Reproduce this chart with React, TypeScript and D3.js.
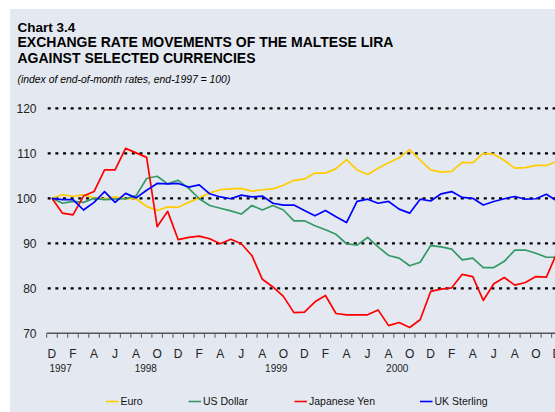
import React, { useEffect, useRef } from "react";
import * as d3 from "d3";

// end-of-month index, Dec 1997 = 100, Dec 1997 .. Dec 2001
const euro = [
  100, 100.8, 100.4, 100.8, 100.1, 99.9, 100.3, 99.9, 99.9, 98.2, 97.3, 98.1, 98.0,
  99.1, 100.1, 101.2, 101.9, 102.1, 102.2, 101.6, 101.9, 102.1, 102.9, 104.0, 104.3,
  105.6, 105.6, 106.6, 108.6, 106.3, 105.3, 106.7, 107.9, 109.0, 110.8, 108.5, 106.3,
  105.8, 106.0, 108.0, 107.9, 110.0, 109.8, 108.4, 106.7, 106.8, 107.3, 107.3, 108.2,
];
const usDollar = [
  100, 98.9, 99.3, 99.1, 100.0, 99.7, 99.8, 99.9, 100.6, 104.4, 104.9, 103.2, 104.0,
  102.2, 99.9, 98.4, 97.8, 97.2, 96.5, 98.4, 97.4, 98.4, 97.4, 95.0, 95.0,
  93.9, 93.0, 92.0, 89.9, 89.6, 91.3, 89.2, 87.3, 86.7, 85.0, 85.8, 89.5,
  89.2, 88.7, 86.3, 86.7, 84.6, 84.6, 86.0, 88.5, 88.5, 87.8, 86.9, 86.9,
];
const japaneseYen = [
  100, 96.7, 96.3, 100.5, 101.5, 106.3, 106.3, 111.1, 110.1, 109.1, 93.7, 97.1, 90.8,
  91.3, 91.6, 91.0, 89.9, 90.9, 89.9, 87.3, 82.0, 80.3, 78.2, 74.6, 74.7,
  77.0, 78.4, 74.4, 74.1, 74.1, 74.1, 75.2, 71.7, 72.4, 71.3, 73.0, 79.3,
  79.8, 80.1, 83.1, 82.6, 77.3, 81.0, 82.4, 80.7, 81.3, 82.6, 82.5, 87.9,
];
const ukSterling = [
  100, 99.7, 99.7, 97.4, 99.1, 101.5, 99.1, 101.1, 100.1, 101.8, 103.3, 103.2, 103.3,
  102.5, 103.0, 101.0, 100.3, 99.9, 100.7, 100.3, 100.5, 98.9, 98.5, 98.5, 97.3,
  96.1, 97.3, 95.9, 94.6, 99.3, 99.8, 98.9, 99.3, 97.6, 96.7, 99.8, 99.4,
  101.0, 101.5, 100.2, 100.0, 98.5, 99.3, 99.9, 100.4, 99.8, 99.9, 100.9, 99.4,
];

const seriesNames = ["Euro", "US Dollar", "Japanese Yen", "UK Sterling"];
const seriesColors = ["#ffcc00", "#339966", "#ff0000", "#0000ff"];

// labels every second month, starting Dec 1997
const monthTicks = [
  "D", "F", "A", "J", "A", "O", "D", "F", "A", "J", "A", "O", "D",
  "F", "A", "J", "A", "O", "D", "F", "A", "J", "A", "O", "D",
];
const yearLabels = ["1997", "1998", "1999", "2000"];
const yearAt = [0, 8.1, 20.5, 32];
const yTicks = [70, 80, 90, 100, 110, 120];

const FONT = "'Liberation Sans', Arial, sans-serif";

export default function App() {
  const width = 555;
  const height = 412;
  const ref = useRef<SVGSVGElement>(null);

  useEffect(() => {
    const svg = d3.select(ref.current);
    svg.selectAll("*").remove();

    const n = euro.length;
    const x = d3
      .scaleBand<number>()
      .domain(d3.range(n))
      .range([46.7, 46.7 + n * 10.52]);
    const cx = (i: number) => (x(Math.floor(i)) ?? 0) + x.bandwidth() / 2 + (i % 1) * x.step();
    const y = d3.scaleLinear().domain([70, 120]).range([333.3, 108.3]);

    svg.append("rect").attr("width", width).attr("height", height).attr("fill", "#ffffff");
    svg
      .append("rect")
      .attr("x", 10)
      .attr("y", 9)
      .attr("width", width - 10)
      .attr("height", height - 9)
      .attr("fill", "#e4e9f1");

    // titles
    const t = svg.append("g").attr("font-family", FONT).attr("fill", "#000");
    t.append("text").attr("x", 17.5).attr("y", 31.5).attr("font-size", 13.5).attr("font-weight", "bold").text("Chart 3.4");
    t.append("text").attr("x", 17.5).attr("y", 47).attr("font-size", 14).attr("font-weight", "bold")
      .text("EXCHANGE RATE MOVEMENTS OF THE MALTESE LIRA");
    t.append("text").attr("x", 17.5).attr("y", 62.5).attr("font-size", 14).attr("font-weight", "bold")
      .text("AGAINST SELECTED CURRENCIES");
    t.append("text").attr("x", 17.5).attr("y", 82.5).attr("font-size", 10.4).attr("font-style", "italic")
      .text("(index of end-of-month rates, end-1997 = 100)");

    // dotted gridlines
    svg
      .append("g")
      .selectAll("line")
      .data(yTicks.filter((v) => v > 70))
      .enter()
      .append("line")
      .attr("x1", 47.7)
      .attr("x2", width + 10)
      .attr("y1", (d) => y(d))
      .attr("y2", (d) => y(d))
      .attr("stroke", "#000")
      .attr("stroke-width", 2.2)
      .attr("stroke-dasharray", "3 4.65");

    // y labels
    svg
      .append("g")
      .selectAll("text")
      .data(yTicks)
      .enter()
      .append("text")
      .attr("x", 36.5)
      .attr("y", (d) => y(d))
      .attr("dy", "0.36em")
      .attr("text-anchor", "end")
      .attr("font-family", FONT)
      .attr("font-size", 12)
      .attr("fill", "#222")
      .text((d) => d);

    // x axis
    const ax = svg.append("g");
    ax.append("line")
      .attr("x1", 46.7)
      .attr("x2", width + 10)
      .attr("y1", y(70))
      .attr("y2", y(70))
      .attr("stroke", "#555")
      .attr("stroke-width", 1.6);
    ax.selectAll("line.tick")
      .data(d3.range(n + 1))
      .enter()
      .append("line")
      .attr("class", "tick")
      .attr("x1", (i) => x(0)! + i * x.step())
      .attr("x2", (i) => x(0)! + i * x.step())
      .attr("y1", y(70))
      .attr("y2", y(70) + 4.5)
      .attr("stroke", "#555")
      .attr("stroke-width", 1);
    ax.selectAll("text.month")
      .data(monthTicks)
      .enter()
      .append("text")
      .attr("class", "month")
      .attr("x", (_, k) => cx(k * 2))
      .attr("y", 358)
      .attr("text-anchor", "middle")
      .attr("font-family", FONT)
      .attr("font-size", 12)
      .attr("fill", "#222")
      .text((d) => d);
    ax.selectAll("text.year")
      .data(yearLabels)
      .enter()
      .append("text")
      .attr("class", "year")
      .attr("x", (_, k) => cx(yearAt[k]) - 2.5)
      .attr("y", 371.5)
      .attr("font-family", FONT)
      .attr("font-size", 10)
      .attr("fill", "#222")
      .text((d) => d);

    // series lines
    const allSeries = [euro, usDollar, japaneseYen, ukSterling];
    const line = d3
      .line<number>()
      .x((_, i) => cx(i))
      .y((d) => y(d));
    svg
      .append("g")
      .selectAll("path")
      .data(allSeries)
      .enter()
      .append("path")
      .attr("d", (d) => line(d))
      .attr("fill", "none")
      .attr("stroke", (_, k) => seriesColors[k])
      .attr("stroke-width", 1.7)
      .attr("stroke-linejoin", "round");

    // legend
    const legendX = [106, 188.5, 294.5, 420];
    const lg = svg
      .append("g")
      .selectAll("g")
      .data(seriesNames)
      .enter()
      .append("g")
      .attr("transform", (_, k) => `translate(${legendX[k]},401.5)`);
    lg.append("line")
      .attr("x1", 0)
      .attr("x2", 12.5)
      .attr("stroke", (_, k) => seriesColors[k])
      .attr("stroke-width", 1.6);
    lg.append("text")
      .attr("x", 14.5)
      .attr("dy", "0.36em")
      .attr("font-family", FONT)
      .attr("font-size", 10.5)
      .attr("fill", "#111")
      .text((d) => d);
  }, []);

  return (
    <>
      <style>{"body{margin:0}"}</style>
      <svg ref={ref} width={width} height={height} style={{ display: "block" }} />
    </>
  );
}
